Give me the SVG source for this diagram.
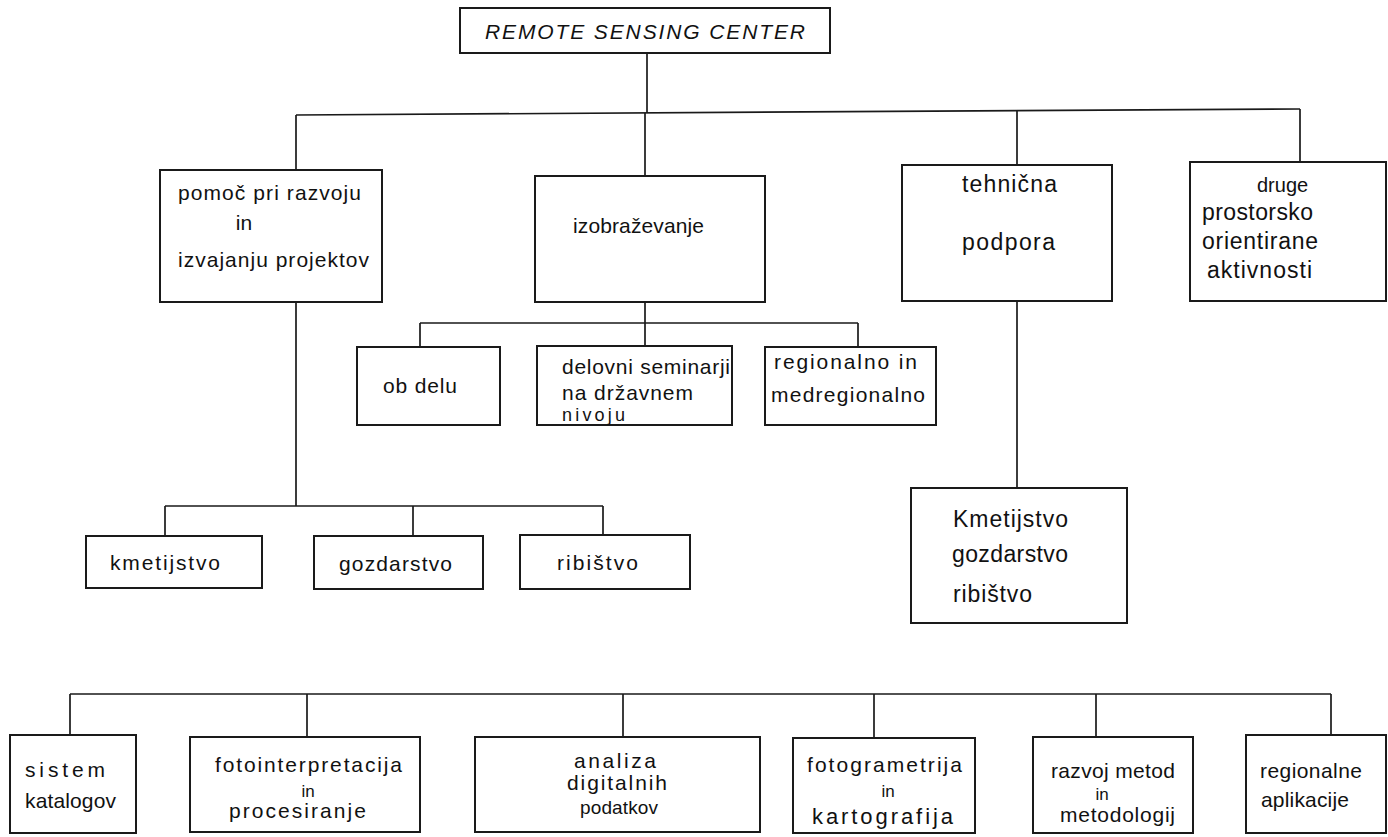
<svg xmlns="http://www.w3.org/2000/svg" width="1388" height="837" viewBox="0 0 1388 837">
<style>
.box{fill:#fff;stroke:#1a1a1a;stroke-width:2}
.ln{fill:none;stroke:#1a1a1a;stroke-width:1.7}
text{font-family:"Liberation Sans","DejaVu Sans",sans-serif;font-size:21px;fill:#111}
text.big{font-size:23px}
text.sm{font-size:17px}
text.s20{font-size:20px}
text.s19{font-size:19px}
text.s18{font-size:18px}
text.s22{font-size:22px}
text.title{font-size:21px;font-style:italic}
</style>
<rect width="1388" height="837" fill="#fff"/>
<g id="connectors">
<path class="ln" d="M647 53V113"/>
<path class="ln" d="M296 115L1300 109"/>
<path class="ln" d="M296 115V170M645 113V176M1017 111V165M1300 109V162"/>
<path class="ln" d="M296 302V506M165 506H603M165 506V536M413 506V536M603 506V535"/>
<path class="ln" d="M645 302V346M420 323H858M420 323V347M858 323V347"/>
<path class="ln" d="M1017 301V488"/>
<path class="ln" d="M70 694H1331M70 694V735M307 694V737M623 694V737M874 694V738M1096 694V737M1331 694V735"/>
</g>
<g id="n-center">
<rect class="box" x="460" y="8" width="370" height="45"/>
<text class="title" x="485" y="39" textLength="320" lengthAdjust="spacing">REMOTE SENSING CENTER</text>
</g>
<g id="n-pomoc">
<rect class="box" x="160" y="170" width="222" height="132"/>
<text x="178" y="200" textLength="183" lengthAdjust="spacing">pomoč pri razvoju</text>
<text x="244" y="230" text-anchor="middle">in</text>
<text x="178" y="267" textLength="191" lengthAdjust="spacing">izvajanju projektov</text>
</g>
<g id="n-izobrazevanje">
<rect class="box" x="535" y="176" width="230" height="126"/>
<text x="573" y="233" textLength="131" lengthAdjust="spacing">izobraževanje</text>
</g>
<g id="n-tehnicna">
<rect class="box" x="902" y="165" width="210" height="136"/>
<text class="big" x="962" y="192" textLength="95" lengthAdjust="spacing">tehnična</text>
<text class="big" x="962" y="250" textLength="93" lengthAdjust="spacing">podpora</text>
</g>
<g id="n-druge">
<rect class="box" x="1190" y="162" width="196" height="139"/>
<text class="s20" x="1257" y="192">druge</text>
<text class="big" x="1202" y="220" textLength="111" lengthAdjust="spacing">prostorsko</text>
<text class="big" x="1202" y="249" textLength="116" lengthAdjust="spacing">orientirane</text>
<text class="big" x="1207" y="278" textLength="105" lengthAdjust="spacing">aktivnosti</text>
</g>
<g id="n-obdelu">
<rect class="box" x="357" y="347" width="143" height="78"/>
<text x="383" y="393" textLength="74" lengthAdjust="spacing">ob delu</text>
</g>
<g id="n-delovni">
<rect class="box" x="537" y="346" width="195" height="79"/>
<text x="562" y="374" textLength="168" lengthAdjust="spacing">delovni seminarji</text>
<text x="562" y="400" textLength="131" lengthAdjust="spacing">na državnem</text>
<text class="s18" x="562" y="421" textLength="63" lengthAdjust="spacing">nivoju</text>
</g>
<g id="n-regionalno">
<rect class="box" x="765" y="347" width="171" height="78"/>
<text x="774" y="369" textLength="143" lengthAdjust="spacing">regionalno in</text>
<text x="771" y="402" textLength="154" lengthAdjust="spacing">medregionalno</text>
</g>
<g id="n-kmetijstvo">
<rect class="box" x="86" y="536" width="176" height="52"/>
<text x="110" y="570" textLength="110" lengthAdjust="spacing">kmetijstvo</text>
</g>
<g id="n-gozdarstvo">
<rect class="box" x="314" y="536" width="169" height="53"/>
<text x="339" y="571" textLength="113" lengthAdjust="spacing">gozdarstvo</text>
</g>
<g id="n-ribistvo">
<rect class="box" x="520" y="535" width="170" height="54"/>
<text x="557" y="570" textLength="81" lengthAdjust="spacing">ribištvo</text>
</g>
<g id="n-kgr">
<rect class="box" x="911" y="488" width="216" height="135"/>
<text class="big" x="953" y="527" textLength="115" lengthAdjust="spacing">Kmetijstvo</text>
<text class="big" x="952" y="562" textLength="116" lengthAdjust="spacing">gozdarstvo</text>
<text class="big" x="953" y="602" textLength="79" lengthAdjust="spacing">ribištvo</text>
</g>
<g id="n-sistem">
<rect class="box" x="10" y="735" width="126" height="98"/>
<text x="25" y="777" textLength="80" lengthAdjust="spacing">sistem</text>
<text x="25" y="808" textLength="91" lengthAdjust="spacing">katalogov</text>
</g>
<g id="n-fotointerpretacija">
<rect class="box" x="190" y="737" width="230" height="95"/>
<text x="215" y="772" textLength="187" lengthAdjust="spacing">fotointerpretacija</text>
<text class="sm" x="308" y="797" text-anchor="middle">in</text>
<text x="229" y="818" textLength="137" lengthAdjust="spacing">procesiranje</text>
</g>
<g id="n-analiza">
<rect class="box" x="475" y="737" width="285" height="95"/>
<text x="574" y="768" textLength="82" lengthAdjust="spacing">analiza</text>
<text x="567" y="790" textLength="100" lengthAdjust="spacing">digitalnih</text>
<text class="s19" x="580" y="814" textLength="78" lengthAdjust="spacing">podatkov</text>
</g>
<g id="n-fotogrametrija">
<rect class="box" x="793" y="738" width="182" height="95"/>
<text x="807" y="772" textLength="155" lengthAdjust="spacing">fotogrametrija</text>
<text class="sm" x="888" y="797" text-anchor="middle">in</text>
<text class="s22" x="812" y="824" textLength="141" lengthAdjust="spacing">kartografija</text>
</g>
<g id="n-razvoj">
<rect class="box" x="1033" y="737" width="160" height="96"/>
<text x="1051" y="778" textLength="124" lengthAdjust="spacing">razvoj metod</text>
<text class="sm" x="1102" y="800" text-anchor="middle">in</text>
<text x="1060" y="822" textLength="115" lengthAdjust="spacing">metodologij</text>
</g>
<g id="n-regionalne">
<rect class="box" x="1246" y="735" width="140" height="98"/>
<text x="1260" y="778" textLength="102" lengthAdjust="spacing">regionalne</text>
<text x="1261" y="807" textLength="88" lengthAdjust="spacing">aplikacije</text>
</g>
</svg>
